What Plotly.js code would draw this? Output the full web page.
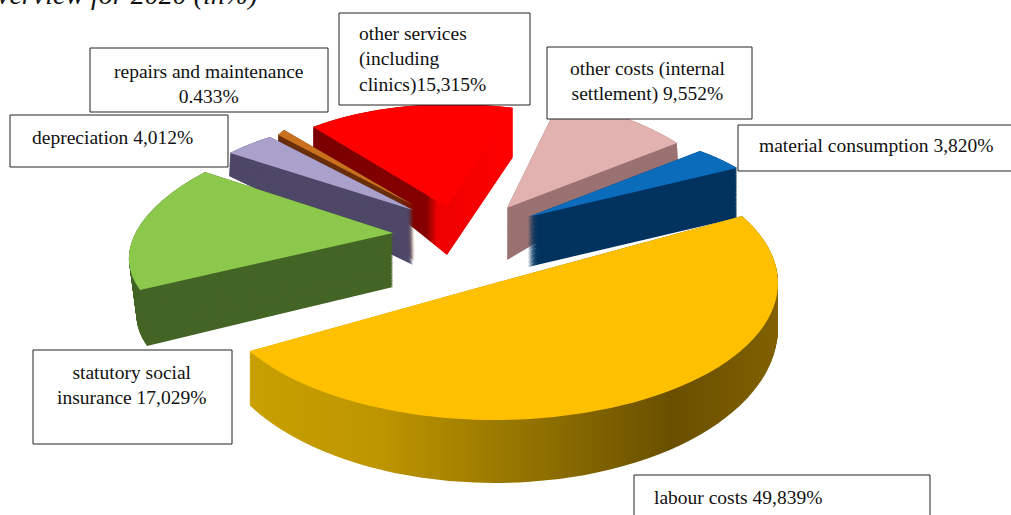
<!DOCTYPE html>
<html><head><meta charset="utf-8">
<script src="https://cdn.plot.ly/plotly-3.0.0.min.js"></script>
<style>html,body{margin:0;padding:0;background:#fff;overflow:hidden}#c{width:1011px;height:515px}</style>
</head><body><div id="c"></div>
<script>
// ---- data ----
const categories = ["material consumption","labour costs","statutory social insurance","depreciation","repairs and maintenance","other services (including clinics)","other costs (internal settlement)"];
const values = [3.820,49.839,17.029,4.012,0.433,15.315,9.552];
const topColors = ["#0b6cbc","#ffc000","#8cc84b","#a9a0cc","#c8701e","#ff0000","#e2b2b0"];
const sideColors = ["#03335f","#8a6a00","#446526","#4f4868","#6b2f0c","#8f0000","#9b7272"];
const labelTexts = ["material consumption 3,820%","labour costs 49,839%","statutory social<br>insurance 17,029%","depreciation 4,012%","repairs and maintenance<br>0.433%","other services<br>(including<br>clinics)15,315%","other costs (internal<br>settlement) 9,552%"];
const titleText = "overview for 2020 (in%)";

// ---- styling: label boxes (px) ----
const boxes = [[738,125,1015,171],[634,475,930,520],[33,350,232,444],[10,115,228,167],[90,48,328,112],[339,13,530,105],[547,47,752,119]];
const labelPos = [[757,146,"left"],[652,497,"left"],[131,385,"center"],[30,137,"left"],[209,84,"center"],[357,60,"left"],[647,81,"center"]];
const FONT = "Liberation Serif", FS = 19.5;

// ---- styling: perspective of each 3-D slice: apex, rim vectors at slice start/end, wall depth, rim vectors at wall bottom ----
const perspective = [
 {at:[528,217], from:[172,-66], to:[209,-49], depth:50},
 {at:[495,283], basis:[[283,0],[0,137]], basis2:[[283,0],[0,155]], depth:45},
 {at:[393,233], from:[-253,57], to:[-188,-61], from2:[-246,59], to2:[-182,-59], depth:54},
 {at:[413,210], from:[-183,-57], to:[-143,-73], from2:[-184,-89], to2:[-144,-114], depth:55},
 {at:[415,206], from:[-137,-71], to:[-131,-76], from2:[-137,-100], to2:[-131,-110], depth:55},
 {at:[447,207], from:[-134,-80], to:[66,-99], from2:[-134,-108], to2:[66,-98], depth:48},
 {at:[507,208], from:[53,-108], to:[170,-65], from2:[53,-140], to2:[171,-100], depth:52}
];
const ROT = 47, LAYERS = 64;

const common = {type:"pie", values:values, labels:categories, sort:false, direction:"clockwise", rotation:ROT,
  textinfo:"none", hoverinfo:"skip", showlegend:false, domain:{x:[0,1],y:[0,1]}};
const traces = [];
for(let i=0;i<LAYERS;i++) traces.push(Object.assign({},common,{marker:{colors:sideColors,line:{width:0}}}));
traces.push(Object.assign({},common,{marker:{colors:topColors,line:{width:0}}}));

const W=1011,H=515;
const shapes = boxes.map(b=>({type:"rect",xref:"paper",yref:"paper",x0:b[0]/W,x1:b[2]/W,y0:1-b[3]/H,y1:1-b[1]/H,
  fillcolor:"#fff",line:{color:"#222",width:1},layer:"above"}));
const annotations = labelTexts.map((t,i)=>({xref:"paper",yref:"paper",x:labelPos[i][0]/W,y:1-labelPos[i][1]/H,
  text:t,showarrow:false,xanchor:labelPos[i][2],yanchor:"middle",align:labelPos[i][2],font:{family:FONT,size:FS,color:"#111"}}));
annotations.push({xref:"paper",yref:"paper",x:260/W,y:1-12/H,text:"<i>"+titleText+"</i>",showarrow:false,xanchor:"right",yanchor:"bottom",font:{family:FONT,size:28,color:"#111"}});

const layout = {width:W,height:H,margin:{l:0,r:0,t:0,b:0},paper_bgcolor:"#fff",shapes:shapes,annotations:annotations};

Plotly.newPlot("c",traces,layout,{staticPlot:true,displayModeBar:false}).then(gd=>{
  const cd = gd.calcdata[0][0], cx=cd.cx, cy=cd.cy, r=cd.r;
  const total = values.reduce((a,b)=>a+b,0);
  let ang = ROT;
  function solve(n0,n1,e0,e1){
    const det=n0[0]*n1[1]-n1[0]*n0[1];
    return [[(e0[0]*n1[1]-e1[0]*n0[1])/det,(e0[1]*n1[1]-e1[1]*n0[1])/det],
            [(e1[0]*n0[0]-e0[0]*n1[0])/det,(e1[1]*n0[0]-e0[1]*n1[0])/det]];
  }
  const mats = values.map((v,i)=>{
    const a0=ang*Math.PI/180; ang+=v/total*360; const a1=ang*Math.PI/180;
    const p=perspective[i];
    const n0=[Math.sin(a0),-Math.cos(a0)], n1=[Math.sin(a1),-Math.cos(a1)];
    const top=p.basis||solve(n0,n1,p.from,p.to);
    const bot=p.basis2||(p.from2?solve(n0,n1,p.from2,p.to2):top);
    return {top,bot,p};
  });
  const svg=document.querySelector("#c .main-svg");
  const NS="http://www.w3.org/2000/svg";
  const defs=document.createElementNS(NS,"defs");
  function grad(id,stops){const g=document.createElementNS(NS,"linearGradient");g.setAttribute("id",id);
    stops.forEach(s=>{const e=document.createElementNS(NS,"stop");e.setAttribute("offset",s[0]);e.setAttribute("stop-color",s[1]);g.appendChild(e);});defs.appendChild(g);}
  grad("gLabour",[[0,"#c9a000"],[0.25,"#bd9500"],[0.55,"#8f7000"],[0.8,"#6a4f00"],[1,"#806000"]]);
  grad("gRed",[[0,"#7a0000"],[0.64,"#850000"],[0.7,"#ee0000"],[1,"#ff0000"]]);
  svg.insertBefore(defs,svg.firstChild);

  document.querySelectorAll("#c .pielayer g.trace").forEach((tr,k)=>{
    const isTop = k===LAYERS, t = k/(LAYERS-1);
    tr.querySelectorAll("g.slice").forEach(s=>{
      const i=s.__data__.i, m=mats[i], p=m.p;
      const f = isTop?0:(1-t);
      const mix=(a,b)=>a+(b-a)*f;
      const u=[mix(m.top[0][0],m.bot[0][0]),mix(m.top[0][1],m.bot[0][1])];
      const w=[mix(m.top[1][0],m.bot[1][0]),mix(m.top[1][1],m.bot[1][1])];
      s.setAttribute("transform",`matrix(${u[0]/r},${u[1]/r},${w[0]/r},${w[1]/r},${p.at[0]},${p.at[1]+p.depth*f}) translate(${-cx},${-cy})`);
      if(!isTop){const path=s.querySelector("path");
        if(i===1)path.style.fill="url(#gLabour)";
        if(i===5)path.style.fill="url(#gRed)";}
    });
  });
});
</script></body></html>
